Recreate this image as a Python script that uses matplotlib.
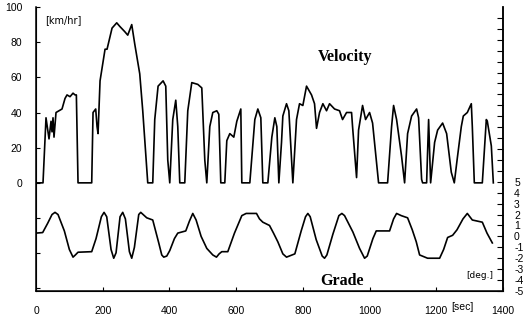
import matplotlib.pyplot as plt

# velocity trace [km/hr]
vel_t = [0, 21, 30, 39, 45, 48, 51, 54, 60, 78, 87, 93, 102, 111, 117, 121, 126, 167,
         171, 179, 183, 186, 192, 207, 213, 228, 242, 251, 266, 275, 287, 296, 311, 320,
         335, 350, 356, 366, 381, 389, 395, 401, 410, 419, 425, 431, 446, 455, 467, 485,
         497, 506, 512, 521, 530, 542, 548, 554, 566, 572, 581, 593, 602, 614, 617, 641,
         656, 665, 674, 680, 695, 707, 716, 722, 728, 736, 740, 751, 758, 766, 770, 781,
         790, 800, 811, 826, 835, 841, 850, 860, 871, 880, 895, 910, 919, 931, 946, 949,
         961, 967, 979, 988, 1000, 1009, 1021, 1027, 1054, 1066, 1072, 1081, 1096, 1105,
         1114, 1126, 1141, 1147, 1156, 1159, 1171, 1177, 1183, 1195, 1204, 1219, 1231,
         1245, 1254, 1263, 1275, 1281, 1293, 1305, 1308, 1314, 1338, 1350, 1353, 1365, 1371]
vel_v = [0, 0, 37, 25, 35, 29, 37, 26, 40, 42, 48, 50, 49, 51, 50, 50, 0, 0,
         40, 42, 32, 28, 58, 76, 76, 88, 91, 89, 86, 84, 90, 79, 62, 41,
         0, 0, 36, 55, 58, 55, 13, 0, 36, 47, 32, 0, 0, 41, 57, 56,
         54, 13, 0, 32, 40, 41, 39, 0, 0, 24, 28, 26, 35, 42, 0, 0,
         36, 42, 37, 0, 0, 26, 37, 32, 0, 23, 38, 45, 41, 13, 0, 36,
         45, 44, 55, 50, 45, 31, 40, 45, 41, 45, 42, 41, 36, 40, 40, 32,
         3, 30, 44, 36, 40, 34, 11, 0, 0, 32, 44, 36, 15, 0,
         28, 38, 42, 37, 2, 0, 0, 36, 0, 23, 30, 34, 28,
         6, 0, 14, 32, 38, 40, 45, 32, 0, 0, 36, 35, 21, 0]

# road grade [deg.]
grade_t = [0, 20, 35, 48, 57, 66, 85, 100, 111, 118, 126, 167, 180, 196, 204, 212, 225,
           233, 240, 252, 260, 268, 280, 287, 295, 308, 314, 332, 350, 368, 377, 383, 392,
           401, 415, 425, 449, 460, 470, 480, 495, 512, 530, 541, 549, 557, 575, 595, 617,
           630, 661, 670, 680, 700, 712, 725, 740, 751, 776, 795, 808, 815, 822, 840, 858,
           865, 872, 890, 908, 917, 925, 950, 970, 985, 993, 1010, 1020, 1060, 1072, 1081,
           1095, 1114, 1128, 1140, 1150, 1174, 1210, 1222, 1234, 1249, 1262, 1280, 1293,
           1308, 1338, 1352, 1368]
grade_g = [0.3, 0.35, 1.2, 2.0, 2.2, 2.0, 0.5, -1.2, -1.9, -1.7, -1.45, -1.4, -0.2, 1.8, 2.2, 1.8, -1.2,
           -2.0, -1.5, 1.8, 2.2, 1.6, -1.4, -2.0, -1.0, 2.0, 2.2, 1.7, 1.5, -0.6, -1.7, -1.9, -1.8,
           -1.3, -0.2, 0.3, 0.5, 1.4, 2.1, 1.5, 0.0, -1.1, -1.7, -1.9, -1.6, -1.4, -1.4, 0.3, 1.9,
           2.1, 2.1, 1.6, 1.3, 1.0, 0.3, -0.5, -1.6, -1.9, -1.6, 0.5, 1.8, 2.1, 1.8, -0.3, -1.8,
           -2.0, -1.7, 0.2, 1.9, 2.1, 1.9, 0.4, -1.1, -2.0, -1.8, -0.2, 0.5, 0.5, 1.6, 2.1,
           1.9, 1.7, 0.6, -0.5, -1.7, -2.0, -2.0, -1.2, -0.1, 0.1, 0.6, 1.6, 2.1,
           1.5, 1.3, 0.3, -0.6]

x_ticks = [0, 200, 400, 600, 800, 1000, 1200, 1400]

fig = plt.figure(figsize=(5.23, 3.25), dpi=100)
ax = fig.add_axes([36 / 523, 34 / 325, 467 / 523, 284 / 325])
ax.plot(vel_t, vel_v, color='black', lw=1.2)
ax.set_xlim(0, 1400)
ax.set_ylim(-61.5, 100)
ax.set_yticks(range(-60, 101, 20))
ax.set_yticklabels(['', '', ''] + [str(v) for v in range(0, 101, 20)])
ax.set_xticks(x_ticks)
ax.tick_params(direction='in', length=3, labelsize=7.5)
ax.tick_params(axis='y', pad=10)
ax.tick_params(axis='x', pad=11)
for lab in ax.get_xticklabels() + ax.get_yticklabels():
    lab.set_family('Liberation Sans')
ax.spines['top'].set_visible(False)
for s in ax.spines.values():
    s.set_linewidth(1.1)

ax2 = ax.twinx()
ax2.plot(grade_t, grade_g, color='black', lw=1.2)
ax2.set_ylim(-5, 21)
ax2.set_yticks(range(-5, 21))
ax2.set_yticklabels([str(g) for g in range(-5, 6)] + [''] * 15)
ax2.tick_params(direction='in', length=4, labelsize=7.5, pad=8)
for lab in ax2.get_yticklabels():
    lab.set_family('Liberation Sans')
ax2.spines['top'].set_visible(False)
ax2.spines['right'].set_linewidth(1.1)

ax.text(27, 92.5, '[km/hr]', fontsize=7, va='center')
ax.text(0.662, 0.824, 'Velocity', transform=ax.transAxes, fontsize=11.5,
        fontweight='bold', family='Liberation Serif', ha='center', va='center')
ax.text(0.655, 0.035, 'Grade', transform=ax.transAxes, fontsize=11.5,
        fontweight='bold', family='Liberation Serif', ha='center', va='center')
ax.text(0.951, 0.053, '[deg.]', transform=ax.transAxes, fontsize=6.5,
        ha='center', va='center')
ax.text(1278, -70.5, '[sec]', fontsize=7.5, family='Liberation Sans',
        ha='center', va='center')

fig.savefig('out.png', dpi=100)
